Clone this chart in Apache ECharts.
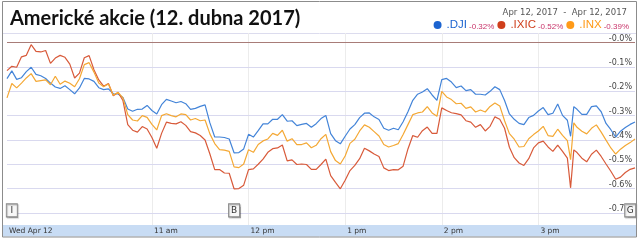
<!DOCTYPE html>
<html>
<head>
<meta charset="utf-8">
<script src="https://cdn.jsdelivr.net/npm/echarts@6/dist/echarts.min.js"></script>
<style>html,body{margin:0;padding:0;background:#fff}#c{width:640px;height:240px}</style>
</head>
<body>
<div id="c"></div>
<script>
// minutes after 9:30 ET, 12 Apr 2017
const times = [0,3,6,9,12,15,18,21,24,27,30,33,36,39,42,45,48,51,54,57,60,63,66,69,72,75,78,81,84,87,90,93,
 96,99,102,105,108,111,114,117,120,123,126,129,132,135,138,141,144,147,150,153,156,159,162,165,168,171,174,177,180,183,186,189,192,
 195,198,201,204,207,210,213,216,219,222,225,228,231,234,237,240,243,246,249,252,255,258,261,264,267,270,273,276,279,282,285,288,291,
 294,297,300,303,306,309,312,315,318,321,324,327,330,333,336,339,342,345,348,350,352,354,357,360,363,366,369,372,375,378,381,384,387,390];

// % change vs. previous close
const dji = [-0.148,-0.116,-0.151,-0.144,-0.119,-0.101,-0.130,-0.136,-0.147,-0.166,-0.182,-0.188,-0.177,-0.193,-0.210,-0.186,-0.147,-0.149,-0.159,-0.185,-0.193,-0.190,-0.210,-0.211,-0.225,-0.273,-0.282,-0.274,-0.273,-0.258,-0.279,-0.293,
 -0.255,-0.233,-0.240,-0.247,-0.242,-0.251,-0.274,-0.270,-0.262,-0.256,-0.330,-0.388,-0.388,-0.390,-0.396,-0.453,-0.452,-0.437,-0.377,-0.388,-0.362,-0.334,-0.334,-0.315,-0.315,-0.296,-0.323,-0.321,-0.341,-0.336,-0.332,-0.348,-0.333,
 -0.312,-0.299,-0.374,-0.403,-0.416,-0.385,-0.355,-0.337,-0.308,-0.290,-0.289,-0.305,-0.316,-0.352,-0.360,-0.352,-0.358,-0.325,-0.284,-0.237,-0.212,-0.203,-0.189,-0.215,-0.237,-0.152,-0.147,-0.162,-0.185,-0.178,-0.197,-0.193,-0.212,
 -0.212,-0.215,-0.200,-0.181,-0.193,-0.238,-0.293,-0.315,-0.332,-0.337,-0.308,-0.299,-0.281,-0.267,-0.296,-0.290,-0.252,-0.299,-0.319,-0.385,-0.263,-0.274,-0.295,-0.295,-0.263,-0.260,-0.284,-0.332,-0.358,-0.388,-0.364,-0.349,-0.336,-0.326];

const ixic = [-0.115,-0.097,-0.101,-0.058,-0.052,-0.008,-0.036,-0.038,-0.032,-0.085,-0.063,-0.052,-0.060,-0.088,-0.145,-0.125,-0.062,-0.053,-0.111,-0.153,-0.179,-0.168,-0.218,-0.205,-0.238,-0.337,-0.360,-0.368,-0.345,-0.355,-0.390,-0.434,
 -0.373,-0.327,-0.332,-0.334,-0.325,-0.340,-0.366,-0.371,-0.382,-0.400,-0.458,-0.522,-0.522,-0.536,-0.537,-0.601,-0.600,-0.586,-0.522,-0.519,-0.500,-0.479,-0.451,-0.436,-0.433,-0.421,-0.486,-0.482,-0.501,-0.499,-0.501,-0.521,-0.521,
 -0.501,-0.479,-0.547,-0.575,-0.601,-0.566,-0.526,-0.505,-0.477,-0.434,-0.445,-0.458,-0.468,-0.515,-0.526,-0.522,-0.523,-0.508,-0.437,-0.382,-0.389,-0.362,-0.347,-0.373,-0.373,-0.268,-0.279,-0.288,-0.292,-0.297,-0.321,-0.327,-0.348,
 -0.337,-0.363,-0.344,-0.305,-0.315,-0.352,-0.430,-0.473,-0.495,-0.505,-0.477,-0.433,-0.412,-0.405,-0.429,-0.447,-0.421,-0.447,-0.475,-0.597,-0.441,-0.452,-0.475,-0.490,-0.459,-0.442,-0.468,-0.499,-0.529,-0.562,-0.553,-0.534,-0.521,-0.515];

const inx = [-0.227,-0.168,-0.186,-0.166,-0.145,-0.127,-0.159,-0.156,-0.153,-0.173,-0.138,-0.171,-0.158,-0.167,-0.181,-0.148,-0.090,-0.082,-0.121,-0.166,-0.181,-0.170,-0.216,-0.204,-0.227,-0.296,-0.318,-0.322,-0.300,-0.307,-0.336,-0.359,
 -0.300,-0.292,-0.300,-0.305,-0.293,-0.296,-0.318,-0.312,-0.321,-0.318,-0.375,-0.415,-0.440,-0.442,-0.447,-0.511,-0.514,-0.499,-0.440,-0.451,-0.419,-0.404,-0.396,-0.373,-0.381,-0.360,-0.405,-0.395,-0.419,-0.419,-0.412,-0.432,-0.422,
 -0.395,-0.377,-0.448,-0.485,-0.499,-0.466,-0.414,-0.397,-0.363,-0.338,-0.348,-0.366,-0.384,-0.419,-0.429,-0.423,-0.415,-0.378,-0.337,-0.296,-0.289,-0.285,-0.263,-0.289,-0.303,-0.200,-0.223,-0.234,-0.251,-0.249,-0.270,-0.264,-0.285,
 -0.277,-0.285,-0.262,-0.248,-0.260,-0.321,-0.374,-0.397,-0.429,-0.427,-0.395,-0.378,-0.363,-0.344,-0.382,-0.385,-0.356,-0.381,-0.403,-0.481,-0.330,-0.348,-0.364,-0.375,-0.352,-0.338,-0.368,-0.401,-0.433,-0.458,-0.438,-0.423,-0.411,-0.396];

const seriesNames = ['.DJI', '.IXIC', '.INX'];
const dayChange = [-0.32, -0.52, -0.39];
const yTickValues = [0, -0.1, -0.2, -0.3, -0.4, -0.5, -0.6, -0.7];
const yTickLabels = ['-0.0%', '-0.1%', '-0.2%', '-0.3%', '-0.4%', '-0.5%', '-0.6%', '-0.7%'];
const xTickValues = [0, 90, 150, 210, 270, 330];
const xTickLabels = ['Wed Apr 12', '11 am', '12 pm', '1 pm', '2 pm', '3 pm'];
const eventTimes = [3, 141, 387];
const eventLetters = ['I', 'B', 'G'];
const titleText = 'Americké akcie (12. dubna 2017)';
const dateRange = 'Apr 12, 2017  -  Apr 12, 2017';

const lineColors = ['#4384d8', '#d85a3a', '#f4a834'];
const dotColors = ['#1c64d0', '#cf3f1c', '#ff9a18'];

const chart = echarts.init(document.getElementById('c'), null, {renderer: 'canvas'});

const hLines = yTickValues.map((v, i) => ({
  yAxis: v,
  lineStyle: {color: v === 0 ? '#a87c78' : '#d9d9ef', width: 1.2, type: 'solid'},
  label: {show: true, formatter: yTickLabels[i], position: 'insideEndTop', distance: [3, 0],
          color: '#444', fontSize: 8, fontFamily: 'DejaVu Sans'}
}));
const vLines = xTickValues.filter(v => v > 0).map(v => ({
  xAxis: v, lineStyle: {color: '#ececec', width: 1, type: 'solid'}, label: {show: false}
}));

const allData = [dji, ixic, inx];
const series = allData.map((vals, k) => ({
  name: seriesNames[k],
  type: 'line',
  data: times.map((t, i) => [t, vals[i]]),
  showSymbol: false,
  symbol: 'none',
  lineStyle: {color: lineColors[k], width: 1.2},
  itemStyle: {color: dotColors[k]},
  z: 3 + k,
  animation: false
}));
series[0].markLine = {
  silent: true, symbol: ['none', 'none'], animation: false, z: 1,
  data: vLines.concat(hLines)
};
series[0].markPoint = {
  silent: true, animation: false,
  data: eventTimes.map((t, i) => ({
    coord: [t, -0.69],
    symbol: 'rect',
    symbolSize: [11, 13],
    itemStyle: {color: '#f7f7f7', borderColor: '#8a8a8a', borderWidth: 1,
                shadowColor: 'rgba(0,0,0,0.25)', shadowOffsetX: 1, shadowOffsetY: 1, shadowBlur: 1},
    label: {show: true, position: 'inside', formatter: eventLetters[i], color: '#333',
            fontSize: 9, fontFamily: 'DejaVu Sans'}
  }))
};

chart.setOption({
  animation: false,
  backgroundColor: '#ffffff',
  title: {
    text: titleText, left: 5, top: 4,
    textStyle: {fontFamily: 'Lato', fontWeight: 'bold', fontSize: 20, color: '#111'}
  },
  legend: {
    right: 6, top: 14, icon: 'circle', itemWidth: 8, itemHeight: 8, itemGap: 3,
    selectedMode: false,
    data: seriesNames.map((n, k) => ({name: n, textStyle: {color: dotColors[k]}})),
    formatter: function (name) {
      const k = seriesNames.indexOf(name);
      return name + '{p|' + dayChange[k].toFixed(2) + '%}';
    },
    textStyle: {fontFamily: 'Liberation Sans', fontSize: 11.5,
      rich: {p: {fontSize: 8, color: '#c8346a', fontFamily: 'Liberation Sans', padding: [4, 0, 0, 2]}}}
  },
  grid: {left: 7, right: 5, top: 33, bottom: 15},
  xAxis: {
    type: 'value', min: 0, max: 390, interval: 30,
    axisLine: {show: false},
    splitLine: {show: false},
    axisTick: {show: true, inside: true, length: 3, customValues: xTickValues.slice(1),
               lineStyle: {color: '#555'}},
    axisLabel: {
      customValues: xTickValues,
      formatter: function (v) { const i = xTickValues.indexOf(v); return i >= 0 ? xTickLabels[i] : ''; },
      align: 'left', margin: 2, padding: [0, 0, 0, 2],
      color: '#333', fontSize: 7.5, fontFamily: 'DejaVu Sans',
      showMinLabel: true, showMaxLabel: true
    }
  },
  yAxis: {
    type: 'value', min: -0.75, max: 0.04,
    axisLine: {show: false}, axisTick: {show: false}, axisLabel: {show: false}, splitLine: {show: false}
  },
  graphic: [
    {type: 'rect', z: -1, shape: {x: 3, y: 225, width: 633, height: 11.5}, style: {fill: '#c8dcf4'}},
    {type: 'line', z: -1, shape: {x1: 3, y1: 33.5, x2: 636, y2: 33.5}, style: {stroke: '#dcdcee', lineWidth: 1}},
    {type: 'rect', z: 10, shape: {x: 2.5, y: 1.5, width: 634, height: 235.5}, style: {fill: null, stroke: '#8c8c8c', lineWidth: 1}},
    {type: 'text', right: 13, top: 8, z: 10,
     style: {text: dateRange, fontSize: 8.5, fill: '#555', fontFamily: 'DejaVu Sans'}}
  ],
  series: series
});
</script>
</body>
</html>
